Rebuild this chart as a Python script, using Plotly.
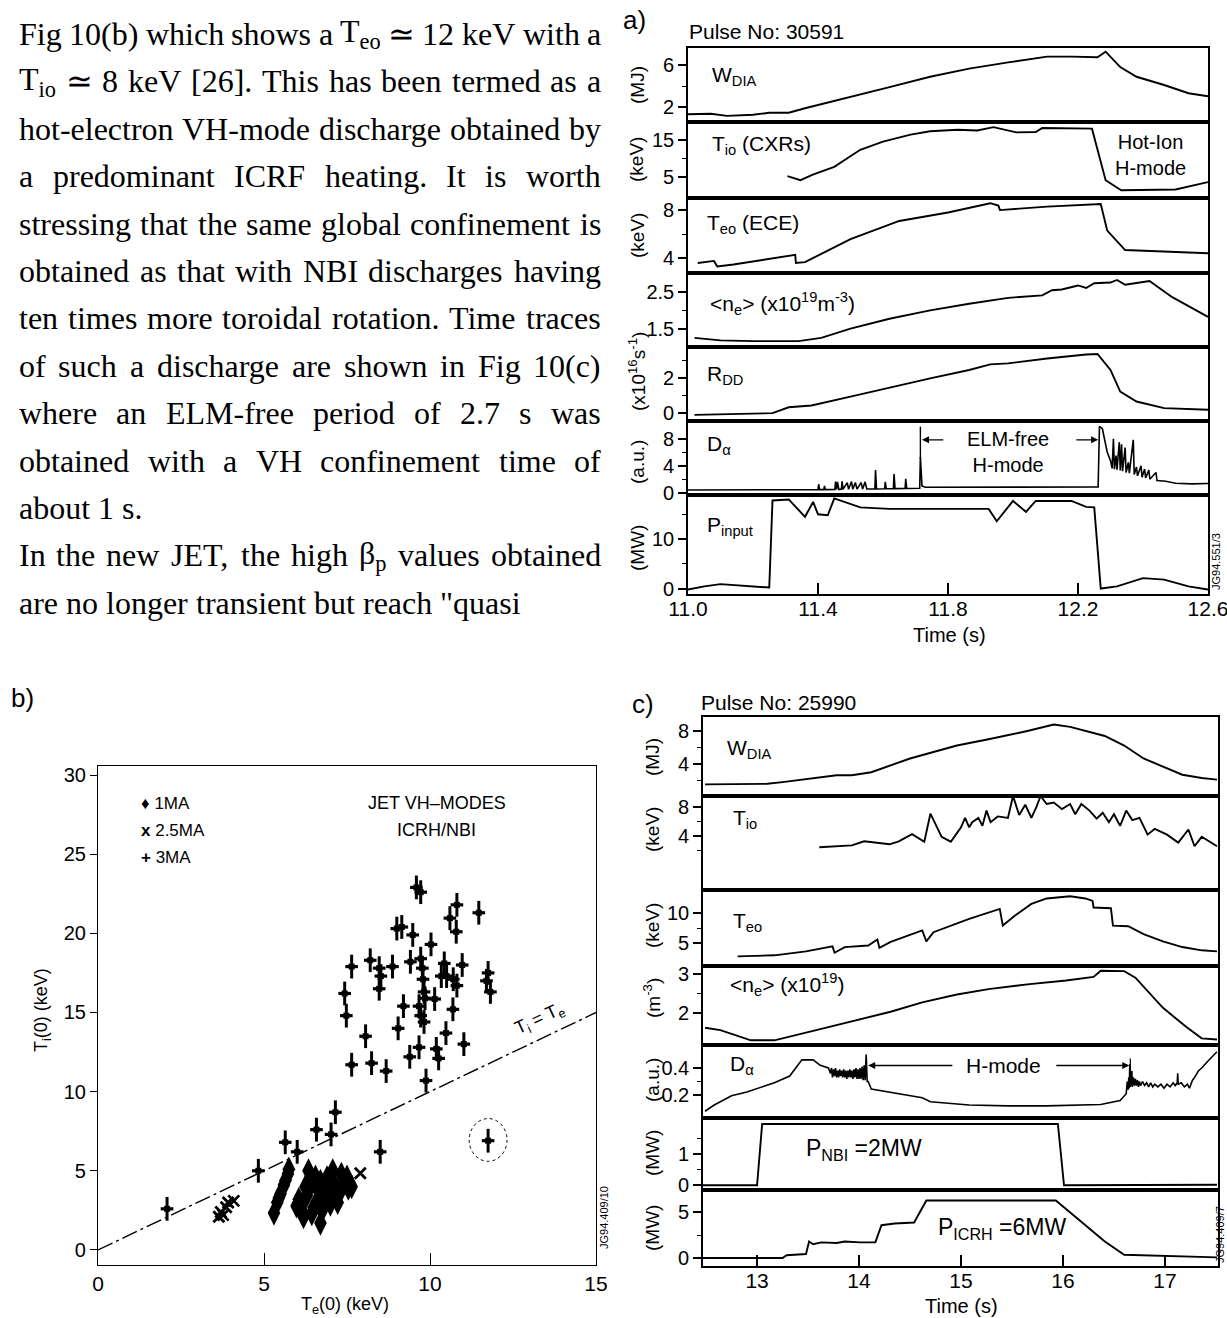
import re
import plotly.graph_objects as go

FIG_W, FIG_H = 1227, 1318
SANS = "Liberation Sans, Arial, Helvetica, sans-serif"
SERIF = "Liberation Serif, Times New Roman, serif"
INK = "black"

# ---------------- (a) Pulse No: 30591 ----------------
A_XRANGE = [11.0, 12.6]
A_XTICKS = [11.0, 11.4, 11.8, 12.2, 12.6]
A_XTICKTEXT = ["11.0", "11.4", "11.8", "12.2", "12.6"]

a_w_t = [11.0, 11.03, 11.07, 11.12, 11.2, 11.25, 11.31, 11.36, 11.42, 11.5, 11.62, 11.745,
         11.865, 11.985, 12.105, 12.18, 12.26, 12.285, 12.33, 12.38, 12.465, 12.54, 12.6]
a_w_v = [1.25, 1.26, 1.3, 1.1, 1.2, 1.4, 1.4, 1.84, 2.3, 2.96, 3.9, 4.9,
         5.7, 6.3, 6.86, 6.86, 6.8, 7.34, 5.84, 4.9, 4.1, 3.3, 3.0]

a_ti_t = [11.306, 11.346, 11.384, 11.45, 11.53, 11.60, 11.685, 11.745, 11.83, 11.89,
          11.94, 12.01, 12.07, 12.09, 12.243, 12.285, 12.333, 12.50, 12.6]
a_ti_v = [5.2, 4.1, 5.6, 7.7, 12.3, 14.5, 16.4, 17.3, 17.7, 17.5,
          18.4, 17.0, 17.1, 18.2, 18.0, 4.1, 1.4, 1.6, 3.6]

a_te_t = [11.03, 11.08, 11.09, 11.14, 11.33, 11.332, 11.36, 11.50, 11.65, 11.80,
          11.93, 11.955, 11.96, 12.105, 12.27, 12.29, 12.345, 12.465, 12.6]
a_te_v = [3.63, 3.8, 3.34, 3.5, 4.3, 3.63, 3.7, 5.6, 7.1, 7.8,
          8.57, 8.37, 8.0, 8.29, 8.5, 6.3, 4.7, 4.57, 4.43]

a_ne_t = [11.02, 11.10, 11.20, 11.34, 11.41, 11.50, 11.62, 11.745, 11.865, 11.985, 12.09,
          12.12, 12.15, 12.20, 12.225, 12.25, 12.30, 12.32, 12.345, 12.42, 12.49, 12.6]
a_ne_v = [1.25, 1.18, 1.16, 1.16, 1.25, 1.5, 1.77, 2.0, 2.18, 2.34, 2.41,
          2.55, 2.57, 2.68, 2.61, 2.74, 2.76, 2.83, 2.7, 2.8, 2.36, 1.82]

a_rdd_t = [11.02, 11.26, 11.31, 11.38, 11.50, 11.62, 11.745, 11.865, 11.93, 11.985,
           12.105, 12.225, 12.26, 12.30, 12.33, 12.38, 12.465, 12.6]
a_rdd_v = [-0.1, 0.0, 0.34, 0.44, 0.95, 1.47, 2.0, 2.48, 2.8, 2.86,
           3.14, 3.37, 3.4, 2.48, 1.24, 0.67, 0.29, 0.2]

a_da_t = [11.00, 11.38, 11.40, 11.402, 11.405, 11.418, 11.42, 11.423, 11.452, 11.454, 11.457,
          11.46, 11.464, 11.472, 11.474, 11.477, 11.49, 11.494, 11.503, 11.507, 11.515, 11.52,
          11.533, 11.537, 11.545, 11.55, 11.575, 11.577, 11.58, 11.605, 11.607, 11.61,
          11.632, 11.634, 11.637, 11.668, 11.67, 11.673, 11.713, 11.715, 11.72, 11.73,
          12.262, 12.266, 12.275, 12.29, 12.30, 12.305, 12.309, 12.312, 12.317, 12.32,
          12.327, 12.33, 12.334, 12.337, 12.345, 12.348, 12.355, 12.358, 12.37, 12.373,
          12.38, 12.383, 12.394, 12.397, 12.405, 12.408, 12.418, 12.421, 12.44, 12.443,
          12.47, 12.5, 12.55, 12.6]
a_da_v = [0.40, 0.42, 0.45, 1.25, 0.45, 0.45, 1.0, 0.45, 0.48, 1.65, 0.48,
          1.6, 0.48, 0.5, 1.7, 0.5, 1.5, 0.5, 1.65, 0.52, 1.5, 0.52,
          1.5, 0.52, 1.6, 0.55, 0.55, 3.35, 0.55, 0.58, 1.6, 0.58,
          0.6, 2.75, 0.6, 0.62, 2.05, 0.62, 0.65, 5.25, 1.0, 0.8,
          0.85, 9.85, 9.5, 6.0, 4.75, 3.6, 8.0, 3.5, 5.5, 3.4,
          7.5, 3.3, 7.2, 3.2, 6.7, 3.0, 4.5, 2.9, 7.85, 2.7,
          3.8, 2.5, 4.0, 2.3, 3.5, 2.2, 3.35, 2.0, 3.0, 1.8,
          1.7, 1.4, 1.3, 1.35]

a_p_t = [11.0, 11.05, 11.10, 11.18, 11.25, 11.26, 11.31, 11.34, 11.36, 11.385, 11.40, 11.43,
         11.45, 11.53, 11.62, 11.925, 11.95, 12.0, 12.04, 12.07, 12.18, 12.225, 12.25, 12.27,
         12.32, 12.40, 12.465, 12.54, 12.6]
a_p_v = [-0.2, 0.45, 0.9, 0.45, 0.2, 17.8, 18.0, 15.9, 14.5, 17.5, 15.0, 14.8,
         18.2, 16.4, 16.1, 16.1, 13.6, 17.7, 15.5, 17.7, 17.7, 16.5, 16.4, 0.0,
         0.45, 2.1, 1.8, 0.45, -0.2]

# ---------------- (b) JET VH-modes, ICRH/NBI ----------------
b_1ma_te = [5.30, 5.40, 5.45, 5.50, 5.60, 5.65, 5.72, 5.75, 5.98, 6.05, 6.13, 6.19, 6.25, 6.29,
            6.34, 6.41, 6.44, 6.50, 6.55, 6.60, 6.60, 6.70, 6.70, 6.75, 6.80, 6.90, 6.90, 6.95,
            7.00, 7.07, 7.12, 7.15, 7.22, 7.30, 7.33, 7.43, 7.50, 7.54, 7.64]
b_1ma_ti = [2.33, 3.00, 3.30, 3.55, 4.10, 4.40, 4.80, 5.10, 2.78, 3.20, 2.56, 2.10, 4.00, 3.44,
            5.00, 4.10, 2.30, 2.70, 4.60, 3.00, 3.90, 1.70, 4.33, 2.50, 3.67, 4.56, 3.40, 3.80,
            2.90, 5.00, 4.10, 3.40, 3.00, 3.70, 4.78, 4.33, 4.60, 3.90, 4.00]

b_25ma_te = [3.64, 3.70, 3.77, 3.86, 3.92, 4.09, 7.90]
b_25ma_ti = [2.10, 2.40, 2.20, 2.70, 3.00, 3.10, 4.84]

b_3ma_te = [9.59, 9.72, 10.81, 10.60, 10.79, 11.47, 9.00, 9.15, 9.48, 10.03, 7.64, 8.20, 8.47,
            8.52, 8.47, 8.87, 9.41, 9.72, 9.77, 9.79, 9.82, 9.85, 10.43, 10.34, 10.50, 10.70,
            10.81, 10.97, 11.70, 11.75, 11.82, 7.43, 7.48, 9.20, 9.67, 9.72, 9.82, 10.14,
            10.69, 9.04, 8.06, 9.67, 9.39, 10.19, 10.26, 10.48, 11.02, 7.64, 8.24, 8.68, 9.88,
            7.15, 6.58, 7.02, 5.64, 6.00, 8.50, 4.83, 2.08, 11.75]
b_3ma_ti = [22.9, 22.6, 21.8, 20.96, 20.1, 21.3, 20.3, 20.4, 19.9, 19.3, 17.9, 18.3, 17.8,
            17.3, 16.5, 17.9, 18.2, 18.4, 17.8, 17.1, 16.3, 15.9, 18.1, 17.3, 17.3, 17.1,
            16.7, 18.0, 17.0, 17.5, 16.3, 16.2, 14.8, 15.4, 15.4, 14.8, 14.4, 15.85,
            15.2, 14.0, 13.5, 12.8, 12.2, 12.7, 12.1, 13.7, 13.0, 11.7, 11.8, 11.3, 10.7,
            8.7, 7.6, 7.3, 6.8, 6.2, 6.2, 5.0, 2.6, 6.9]

b_equal_line = [0.0, 15.0]          # Ti = Te
B_TICKS = [0, 5, 10, 15, 20, 25, 30]
B_TICKTEXT = ["0", "5", "10", "15", "20", "25", "30"]
B_XTICKS = [0, 5, 10, 15]
B_XTICKTEXT = ["0", "5", "10", "15"]

# ---------------- (c) Pulse No: 25990 ----------------
C_XRANGE = [12.47, 17.52]
C_XTICKS = [13, 14, 15, 16, 17]
C_XTICKTEXT = ["13", "14", "15", "16", "17"]

c_w_t = [12.49, 12.79, 13.10, 13.25, 13.55, 13.78, 13.93, 14.12, 14.50, 14.77, 14.96, 15.27,
         15.65, 15.91, 16.07, 16.41, 16.60, 16.79, 16.98, 17.17, 17.36, 17.51]
c_w_v = [1.53, 1.6, 1.6, 1.8, 2.3, 2.63, 2.63, 3.0, 4.67, 5.57, 6.24, 7.0,
         8.0, 8.78, 8.5, 7.4, 6.24, 4.67, 3.7, 2.7, 2.3, 2.1]

c_ti_t = [13.61, 13.93, 14.05, 14.16, 14.30, 14.39, 14.52, 14.64, 14.70, 14.81, 14.90, 14.96,
          15.00, 15.04, 15.08, 15.11, 15.17, 15.21, 15.25, 15.29, 15.36, 15.46, 15.51, 15.57,
          15.63, 15.69, 15.74, 15.78, 15.84, 15.91, 15.99, 16.07, 16.12, 16.18, 16.26, 16.33,
          16.39, 16.45, 16.50, 16.56, 16.62, 16.68, 16.75, 16.83, 16.90, 17.02, 17.13, 17.23,
          17.29, 17.36, 17.51]
c_ti_v = [2.46, 2.72, 3.28, 3.13, 2.87, 3.28, 4.26, 3.23, 7.08, 3.9, 3.23, 4.4,
          5.2, 6.5, 5.2, 5.9, 6.5, 5.4, 7.5, 5.9, 6.7, 6.5, 9.5, 6.9,
          8.3, 6.5, 8.0, 9.5, 8.4, 8.6, 7.7, 8.4, 7.0, 8.4, 7.5, 6.4,
          7.2, 5.9, 7.0, 5.4, 7.5, 6.2, 6.5, 4.2, 5.0, 4.2, 3.1, 4.9,
          2.6, 3.9, 2.6]

c_te_t = [12.81, 13.17, 13.48, 13.74, 13.76, 13.86, 14.09, 14.18, 14.20, 14.31, 14.62, 14.66,
          14.73, 15.08, 15.38, 15.41, 15.53, 15.69, 15.84, 16.07, 16.22, 16.29, 16.30, 16.47,
          16.49, 16.64, 16.79, 16.98, 17.17, 17.36, 17.51]
c_te_v = [2.8, 2.97, 3.63, 4.45, 3.4, 4.34, 4.6, 5.6, 4.2, 5.2, 7.1, 5.27,
          6.8, 9.0, 10.66, 7.9, 9.56, 11.5, 12.4, 12.75, 12.4, 12.0, 10.9, 10.77,
          7.9, 7.8, 6.5, 5.27, 4.34, 3.8, 3.63]

c_ne_t = [12.49, 12.64, 12.94, 13.17, 13.55, 13.93, 14.31, 14.62, 14.96, 15.27, 15.65,
          16.03, 16.30, 16.37, 16.60, 16.71, 16.98, 17.21, 17.36, 17.51]
c_ne_v = [1.62, 1.56, 1.3, 1.3, 1.54, 1.79, 2.03, 2.27, 2.47, 2.61, 2.73,
          2.83, 2.92, 3.08, 3.07, 2.9, 2.13, 1.64, 1.35, 1.32]

c_da_t = [12.49, 12.58, 12.75, 12.90, 13.17, 13.32, 13.44, 13.55, 13.62, 13.70,
          13.72, 13.73, 13.74, 13.75, 13.76, 13.77, 13.78, 13.79, 13.80, 13.81, 13.82, 13.83,
          13.84, 13.85, 13.86, 13.87, 13.88, 13.89, 13.90, 13.91, 13.92, 13.93, 13.94, 13.95,
          13.96, 13.97, 13.98, 13.99, 14.00, 14.01, 14.02, 14.03, 14.04, 14.05, 14.06, 14.07,
          14.08, 14.09, 14.12, 14.31, 14.62, 14.70, 15.08, 15.46, 15.84, 16.37, 16.56, 16.62,
          16.63, 16.64, 16.645, 16.65, 16.655, 16.66, 16.665, 16.67, 16.675, 16.68, 16.69,
          16.70, 16.71, 16.72, 16.73, 16.74, 16.75, 16.76, 16.78, 16.80, 16.82, 16.84, 16.86,
          16.88, 16.90, 16.93, 16.96, 16.99, 17.02, 17.05, 17.08, 17.10, 17.12, 17.125, 17.13,
          17.16, 17.19, 17.22, 17.24, 17.27, 17.29, 17.33, 17.36, 17.42, 17.51]
c_da_v = [0.08, 0.126, 0.195, 0.223, 0.29, 0.34, 0.46, 0.46, 0.42, 0.40,
          0.36, 0.40, 0.33, 0.39, 0.34, 0.40, 0.33, 0.38, 0.33, 0.39, 0.34, 0.38,
          0.33, 0.39, 0.33, 0.38, 0.32, 0.38, 0.33, 0.39, 0.33, 0.38, 0.32, 0.39,
          0.33, 0.40, 0.32, 0.39, 0.32, 0.40, 0.32, 0.41, 0.31, 0.42, 0.31, 0.50,
          0.30, 0.30, 0.245, 0.22, 0.18, 0.15, 0.126, 0.12, 0.12, 0.13, 0.16, 0.21,
          0.30, 0.24, 0.33, 0.25, 0.43, 0.26, 0.35, 0.27, 0.38, 0.26, 0.33,
          0.27, 0.32, 0.27, 0.31, 0.26, 0.30, 0.27, 0.30, 0.27, 0.29, 0.26, 0.29,
          0.26, 0.28, 0.26, 0.28, 0.25, 0.28, 0.26, 0.29, 0.27, 0.29, 0.36, 0.28,
          0.29, 0.26, 0.28, 0.25, 0.31, 0.33, 0.38, 0.40, 0.45, 0.52]

c_nbi_t = [12.47, 13.0, 13.05, 15.95, 16.01, 17.51]
c_nbi_v = [0.0, 0.0, 1.96, 1.96, 0.0, 0.02]

c_icrh_t = [12.47, 13.25, 13.29, 13.48, 13.51, 13.55, 13.63, 13.78, 13.86, 14.01, 14.16, 14.22,
            14.35, 14.54, 14.66, 15.93, 16.22, 16.41, 16.60, 17.51]
c_icrh_v = [0.0, 0.0, 0.3, 0.43, 1.8, 1.5, 1.7, 1.64, 1.8, 1.7, 1.7, 3.57,
            3.75, 3.86, 6.25, 6.25, 3.57, 1.8, 0.36, 0.07]

# ---------------- page text ----------------
PARA_LINES = [
    (["Fig", "10(b)", "which", "shows", "a", "T<sub>eo</sub>", "\u2243", "12", "keV", "with", "a"], True),
    (["T<sub>io</sub>", "\u2243", "8", "keV", "[26].", "This", "has", "been", "termed", "as", "a"], True),
    (["hot-electron", "VH-mode", "discharge", "obtained", "by"], True),
    (["a", "predominant", "ICRF", "heating.", "It", "is", "worth"], True),
    (["stressing", "that", "the", "same", "global", "confinement", "is"], True),
    (["obtained", "as", "that", "with", "NBI", "discharges", "having"], True),
    (["ten", "times", "more", "toroidal", "rotation.", "Time", "traces"], True),
    (["of", "such", "a", "discharge", "are", "shown", "in", "Fig", "10(c)"], True),
    (["where", "an", "ELM-free", "period", "of", "2.7", "s", "was"], True),
    (["obtained", "with", "a", "VH", "confinement", "time", "of"], True),
    (["about", "1", "s."], False),
    (["In", "the", "new", "JET,", "the", "high", "\u03b2<sub>p</sub>", "values", "obtained"], True),
    (["are", "no", "longer", "transient", "but", "reach", "\"quasi"], False),
]


def fx(p):
    return p / FIG_W


def fy(p):
    return 1 - p / FIG_H


layout = dict(
    width=FIG_W, height=FIG_H,
    margin=dict(l=0, r=0, t=0, b=0, pad=0, autoexpand=False),
    paper_bgcolor="white", plot_bgcolor="white", showlegend=False,
    font=dict(family=SANS, color=INK),
)
annotations = []
shapes = []
traces = []


def names(k):
    s = "" if k == 1 else str(k)
    return "xaxis" + s, "yaxis" + s, "x" + s, "y" + s


def add_axes(k, xpx, ypx, xrange, yrange, yticks, yminor, xticks=None, xtext=None,
             tick_size=20, label_shift=0):
    xa, ya, xr, yr = names(k)
    xd = dict(domain=[fx(xpx[0]), fx(xpx[1])], range=xrange, anchor=yr, showline=True,
              mirror=True, linecolor=INK, linewidth=1.6, showgrid=False, zeroline=False,
              fixedrange=True, automargin=False)
    if xticks is not None:
        xd.update(tickmode="array", tickvals=xticks, ticktext=xtext, ticks="inside",
                  ticklen=11, tickwidth=1.5, tickcolor=INK, showticklabels=True,
                  ticklabeloverflow="allow", ticklabelstandoff=label_shift,
                  tickfont=dict(size=tick_size + 1, family=SANS, color=INK))
    else:
        xd.update(showticklabels=False, ticks="")
    yd = dict(domain=[fy(ypx[1]), fy(ypx[0])], range=yrange, anchor=xr, showline=True,
              mirror=True, linecolor=INK, linewidth=1.6, showgrid=False, zeroline=False,
              fixedrange=True, automargin=False, tickmode="array", tickvals=yticks,
              ticktext=[("%g" % v) for v in yticks], ticklabeloverflow="allow",
              ticks="outside", ticklen=8, tickwidth=1.5,
              tickcolor=INK, tickfont=dict(size=tick_size, family=SANS, color=INK))
    if yminor:
        yd["minor"] = dict(tickmode="array", tickvals=yminor, ticks="outside", ticklen=4,
                           tickwidth=1.2, tickcolor=INK, showgrid=False)
    layout[xa] = xd
    layout[ya] = yd
    return xr, yr


def line_trace(k, t, v, width=1.9):
    _, _, xr, yr = names(k)
    traces.append(go.Scatter(x=t, y=v, xaxis=xr, yaxis=yr, mode="lines",
                             line=dict(color=INK, width=width), hoverinfo="skip"))


def note(text, x, y, size=18, xanchor="left", yanchor="middle", xref="paper", yref="paper",
         angle=0, family=SANS):
    annotations.append(dict(text=text, x=x, y=y, xref=xref, yref=yref, xanchor=xanchor,
                            yanchor=yanchor, showarrow=False, textangle=angle,
                            font=dict(size=size, family=family, color=INK)))


def dom(k):
    _, _, xr, yr = names(k)
    return xr + " domain", yr + " domain"


# ---------- panel (a) ----------
A_X = [688, 1208]
A_ROWS = [48, 122, 198, 273, 347, 421, 495, 594]
a_panels = [
    (a_w_t, a_w_v, [0.5, 7.7], [6, 2], [4]),
    (a_ti_t, a_ti_v, [-0.7, 19.8], [15, 5], [10]),
    (a_te_t, a_te_v, [2.8, 9.0], [8, 4], [6]),
    (a_ne_t, a_ne_v, [1.0, 3.02], [2.5, 1.5], [2.0]),
    (a_rdd_t, a_rdd_v, [-0.45, 3.8], [2, 0], [1, 3]),
    (a_da_t, a_da_v, [-0.35, 10.65], [8, 4, 0], [2, 6]),
    (a_p_t, a_p_v, [-1.1, 18.9], [10, 0], [5, 15]),
]
for i, (t, v, yrng, yt, ym) in enumerate(a_panels):
    k = i + 1
    last = i == len(a_panels) - 1
    add_axes(k, A_X, (A_ROWS[i], A_ROWS[i + 1]), A_XRANGE, yrng, yt, ym,
             xticks=A_XTICKS if last else None, xtext=A_XTICKTEXT if last else None,
             label_shift=-5)
    line_trace(k, t, v, width=1.6 if k == 6 else 1.9)

a_inside = [
    (1, "W<sub>DIA</sub>", 0.042, 0.62),
    (2, "T<sub>io</sub> (CXRs)", 0.042, 0.70),
    (3, "T<sub>eo</sub> (ECE)", 0.032, 0.66),
    (4, "&lt;n<sub>e</sub>&gt; (x10<sup>19</sup>m<sup>-3</sup>)", 0.038, 0.59),
    (5, "R<sub>DD</sub>", 0.032, 0.62),
    (6, "D<sub>\u03b1</sub>", 0.032, 0.67),
    (7, "P<sub>input</sub>", 0.032, 0.69),
]
for k, txt, x, y in a_inside:
    xr, yr = dom(k)
    note(txt, x, y, size=21, xref=xr, yref=yr)
xr, yr = dom(2)
note("Hot-Ion<br>H-mode", 0.89, 0.56, size=20, xanchor="center", xref=xr, yref=yr)
note("ELM-free<br>H-mode", 11.985, 6.05, size=20, xanchor="center", xref="x6", yref="y6")
for head, tail in ((11.72, 11.79), (12.262, 12.19)):
    annotations.append(dict(x=head, y=7.85, ax=tail, ay=7.85, xref="x6", yref="y6",
                            axref="x6", ayref="y6", text="", showarrow=True, arrowhead=2,
                            arrowsize=1, arrowwidth=1.4, arrowcolor=INK))
shapes.append(dict(type="line", xref="x6", yref="y6", x0=11.715, x1=11.715, y0=5.0, y1=9.8,
                   line=dict(color=INK, width=1.4)))

for txt, ypx in (("(MJ)", 85), ("(keV)", 160), ("(keV)", 236),
                 ("(x10<sup>16</sup>s<sup>-1</sup>)", 372), ("(a.u.)", 462), ("(MW)", 548)):
    note(txt, fx(637), fy(ypx), size=19, xanchor="center", angle=-90)

note("a)", fx(621), fy(20), size=26)
note("Pulse No: 30591", fx(687), fy(32), size=21)
note("Time (s)", fx(949), fy(635), size=20, xanchor="center")
note("JG94.551/3", fx(1216), fy(562), size=11, xanchor="center", angle=-90)

# ---------- panel (b) ----------
B_K = 8
add_axes(B_K, (98, 596), (766, 1265), [0, 15], [-0.95, 30.57], B_TICKS, None,
         xticks=B_XTICKS, xtext=B_XTICKTEXT, tick_size=20)
layout["yaxis8"].update(ticklen=7, tickwidth=1, linewidth=1.2)
layout["xaxis8"].update(ticklen=12, tickwidth=1.2, linewidth=1.2,
                        tickfont=dict(size=21, family=SANS, color=INK))

traces.append(go.Scatter(x=b_equal_line, y=b_equal_line, xaxis="x8", yaxis="y8", mode="lines",
                         line=dict(color=INK, width=1.4, dash="16px,4px,3px,4px"),
                         hoverinfo="skip"))
traces.append(go.Scatter(x=b_1ma_te, y=b_1ma_ti, xaxis="x8", yaxis="y8", mode="markers",
                         marker=dict(symbol="diamond-tall", size=18, color=INK),
                         hoverinfo="skip"))
traces.append(go.Scatter(x=b_25ma_te, y=b_25ma_ti, xaxis="x8", yaxis="y8", mode="markers",
                         marker=dict(symbol="x-thin", size=11, color=INK,
                                     line=dict(color=INK, width=2.8)),
                         hoverinfo="skip"))
traces.append(go.Scatter(x=b_3ma_te, y=b_3ma_ti, xaxis="x8", yaxis="y8", mode="markers",
                         marker=dict(symbol="square", size=6, color=INK),
                         error_y=dict(type="constant", value=0.75, thickness=3, width=0,
                                      color=INK),
                         error_x=dict(type="constant", value=0.19, thickness=3.2, width=0,
                                      color=INK),
                         hoverinfo="skip"))
shapes.append(dict(type="circle", xref="x8", yref="y8", x0=11.18, x1=12.32, y0=5.6, y1=8.3,
                   line=dict(color=INK, width=1, dash="dot")))
note("T<sub>i</sub> = T<sub>e</sub>", 13.3, 14.55, size=18, xanchor="center", xref="x8",
     yref="y8", angle=-25)

note("\u2666 1MA", fx(139), fy(803), size=17)
note("<b>x</b> 2.5MA", fx(139), fy(830), size=17)
note("<b>+</b> 3MA", fx(139), fy(857), size=17)
note("JET VH\u2013MODES", fx(437), fy(803), size=18, xanchor="center")
note("ICRH/NBI", fx(437), fy(830), size=18, xanchor="center")
note("T<sub>i</sub>(0) (keV)", fx(42), fy(1010), size=18, xanchor="center", angle=-90)
note("T<sub>e</sub>(0) (keV)", fx(345), fy(1305), size=18, xanchor="center")
note("b)", fx(9), fy(698), size=26)
note("JG94.409/10", fx(604), fy(1218), size=11, xanchor="center", angle=-90)

# ---------- panel (c) ----------
C_X = [703, 1218]
C_ROWS = [717, 796, 890, 966, 1045, 1118, 1190, 1266]
c_panels = [
    (c_w_t, c_w_v, [0.12, 9.7], [8, 4], [6, 2]),
    (c_ti_t, c_ti_v, [-3.4, 9.5], [8, 4], [6, 2]),
    (c_te_t, c_te_v, [1.2, 13.8], [10, 5], [7.5]),
    (c_ne_t, c_ne_v, [1.18, 3.2], [3, 2], [2.5]),
    (c_da_t, c_da_v, [0.03, 0.57], [0.4, 0.2], [0.3]),
    (c_nbi_t, c_nbi_v, [-0.15, 2.15], [1, 0], [0.5, 1.5]),
    (c_icrh_t, c_icrh_v, [-0.87, 7.4], [5, 0], [2.5]),
]
for i, (t, v, yrng, yt, ym) in enumerate(c_panels):
    k = 9 + i
    last = i == len(c_panels) - 1
    add_axes(k, C_X, (C_ROWS[i], C_ROWS[i + 1]), C_XRANGE, yrng, yt, ym,
             xticks=C_XTICKS if last else None, xtext=C_XTICKTEXT if last else None,
             label_shift=-5)
    line_trace(k, t, v, width=1.6 if k == 13 else 1.9)

c_inside = [
    (9, "W<sub>DIA</sub>", 0.042, 0.60),
    (10, "T<sub>io</sub>", 0.055, 0.76),
    (11, "T<sub>eo</sub>", 0.055, 0.58),
    (12, "&lt;n<sub>e</sub>&gt; (x10<sup>19</sup>)", 0.048, 0.76),
    (13, "D<sub>\u03b1</sub>", 0.048, 0.73),
]
for k, txt, x, y in c_inside:
    xr, yr = dom(k)
    note(txt, x, y, size=21, xref=xr, yref=yr)
note("H-mode", 15.42, 0.418, size=21, xanchor="center", xref="x13", yref="y13")
for head, tail in ((14.09, 14.93), (16.65, 15.92)):
    annotations.append(dict(x=head, y=0.418, ax=tail, ay=0.418, xref="x13", yref="y13",
                            axref="x13", ayref="y13", text="", showarrow=True, arrowhead=2,
                            arrowsize=1, arrowwidth=1.4, arrowcolor=INK))
shapes.append(dict(type="line", xref="x13", yref="y13", x0=16.66, x1=16.66, y0=0.30, y1=0.47,
                   line=dict(color=INK, width=1.2)))
note("P<sub>NBI</sub> =2MW", 14.05, 1.14, size=23, xanchor="center", xref="x14", yref="y14")
note("P<sub>ICRH</sub> =6MW", 15.4, 3.2, size=23, xanchor="center", xref="x15", yref="y15")

for txt, ypx in (("(MJ)", 757), ("(keV)", 830), ("(keV)", 926), ("(m<sup>-3</sup>)", 998),
                 ("(a.u.)", 1080), ("(MW)", 1153), ("(MW)", 1228)):
    note(txt, fx(652), fy(ypx), size=19, xanchor="center", angle=-90)

note("c)", fx(630), fy(704), size=26)
note("Pulse No: 25990", fx(699), fy(702), size=21)
note("Time (s)", fx(962), fy(1306), size=20, xanchor="center")
note("JG94.409/7", fx(1220), fy(1235), size=11, xanchor="center", angle=-90)

# ---------- justified paragraph ----------
ADV = {" ": 250, ".": 250, ",": 250, "(": 333, ")": 333, "[": 333, "]": 333, "-": 333,
       ":": 278, "\"": 408, "\u2243": 838, "\u03b2": 549}
ADV.update(dict(zip("abcdefghijklmnopqrstuvwxyz",
                    [444, 500, 444, 500, 444, 333, 500, 500, 278, 278, 500, 278, 778, 500, 500,
                     500, 500, 333, 389, 278, 500, 500, 722, 500, 500, 444])))
ADV.update(dict(zip("ABCDEFGHIJKLMNOPQRSTUVWXYZ",
                    [722, 667, 667, 722, 611, 556, 722, 722, 333, 389, 722, 611, 889, 722, 722,
                     556, 722, 667, 556, 611, 722, 722, 944, 722, 722, 611])))
ADV.update({d: 500 for d in "0123456789"})

PARA_SIZE = 32
PARA_LEFT, PARA_RIGHT = 18, 600
PARA_Y0, PARA_DY = 34, 47.4


def word_width(html):
    w, scale = 0.0, 1.0
    for tok in re.split(r"(<sub>|</sub>)", html):
        if tok == "<sub>":
            scale = 0.7
        elif tok == "</sub>":
            scale = 1.0
        else:
            w += sum(ADV.get(ch, 500) for ch in tok) * scale
    return w * PARA_SIZE / 1000.0


for li, (words, justify) in enumerate(PARA_LINES):
    widths = [word_width(w) for w in words]
    if justify and len(words) > 1:
        gap = (PARA_RIGHT - PARA_LEFT - sum(widths)) / (len(words) - 1)
    else:
        gap = ADV[" "] * PARA_SIZE / 1000.0
    xpos = PARA_LEFT
    ypos = PARA_Y0 + li * PARA_DY
    for w, wd in zip(words, widths):
        annotations.append(dict(text=w, x=fx(xpos), y=fy(ypos), xref="paper", yref="paper",
                                xanchor="left", yanchor="middle", showarrow=False, borderpad=0,
                                font=dict(size=PARA_SIZE, family=SERIF, color=INK)))
        xpos += wd + gap

layout["annotations"] = annotations
layout["shapes"] = shapes

fig = go.Figure(data=traces)
fig.update_layout(**layout)
fig.write_html("out.html")
